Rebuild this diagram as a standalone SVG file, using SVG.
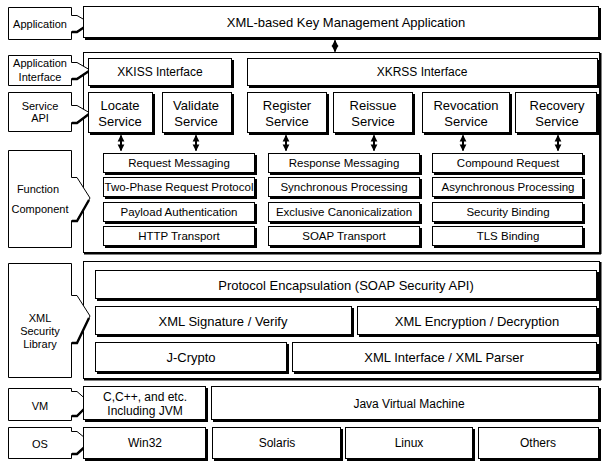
<svg xmlns="http://www.w3.org/2000/svg" width="606" height="463" viewBox="0 0 606 463">
  <style>
    text { font-family: "Liberation Sans", Arial, sans-serif; fill: #000; text-anchor: middle; dominant-baseline: central; }
    .t13 { font-size: 13px; }
    .t12 { font-size: 12px; }
    .t11 { font-size: 11.5px; }
    .lb  { font-size: 11px; }
    .sh  { fill: #000; }
    .bx  { fill: #fff; stroke: #000; stroke-width: 1; }
    .fr  { fill: none; stroke: #000; stroke-width: 1; }
    .frs { fill: none; stroke: #000; stroke-width: 2; }
    .tag { fill: #fff; stroke: #000; stroke-width: 1; stroke-linejoin: miter; }
    .heavy { stroke: #000; stroke-width: 2.4; fill: none; }
    .dbl { stroke: #000; stroke-width: 2; marker-start: url(#ah); marker-end: url(#ah); }
  </style>
  <defs>
    <marker id="ah" viewBox="0 0 10 10" refX="9" refY="5" markerWidth="3.4" markerHeight="3.8" orient="auto-start-reverse">
      <path d="M0,0 L10,5 L0,10 Z" fill="#000"/>
    </marker>
  </defs>
  <rect width="606" height="463" fill="#fff"/>

  <!-- layer frames -->
  <g id="frames">
    <rect class="fr" x="83.5" y="52.5" width="516" height="200"/>
    <line class="frs" x1="84" y1="253.5" x2="601" y2="253.5"/>
    <line class="frs" x1="600.5" y1="53" x2="600.5" y2="254"/>
    <rect class="fr" x="83.5" y="261.5" width="516" height="117"/>
    <line class="frs" x1="84" y1="379.5" x2="601" y2="379.5"/>
    <line class="frs" x1="600.5" y1="262" x2="600.5" y2="380"/>
  </g>

  <!-- layer labels with pointer tabs -->
  <g id="lbl-application">
    <path class="tag" d="M8.5,7.5 H71.5 V15.5 H77 L90,23 L77,31.5 H71.5 V39.5 H8.5 Z"/>
    <path class="heavy" d="M89,24 L77,32 H72"/>
    <text class="lb" x="40" y="24">Application</text>
  </g>
  <g id="lbl-app-interface">
    <path class="tag" d="M8.5,55.5 H71.5 V62.5 H77 L90,70 L77,78.5 H71.5 V85.5 H8.5 Z"/>
    <path class="heavy" d="M89,71 L77,79 H72"/>
    <text class="lb" x="40" y="63">Application</text>
    <text class="lb" x="40" y="77">Interface</text>
  </g>
  <g id="lbl-service-api">
    <path class="tag" d="M8.5,92.5 H71.5 V105.5 H77 L90,113 L77,122.5 H71.5 V131.5 H8.5 Z"/>
    <path class="heavy" d="M89,114 L77,123 H72"/>
    <text class="lb" x="40" y="106">Service</text>
    <text class="lb" x="40" y="118">API</text>
  </g>
  <g id="lbl-function">
    <path class="tag" d="M8.5,150.5 H71.5 V177.5 H77 L90,198 L77,220.5 H71.5 V247.5 H8.5 Z"/>
    <path class="heavy" d="M89,200 L77,221 H72"/>
    <text class="lb" x="38" y="189">Function</text>
    <text class="lb" x="40" y="209">Component</text>
  </g>
  <g id="lbl-xml-security">
    <path class="tag" d="M8.5,263.5 H71.5 V295.5 H77 L90,316 L77,342.5 H71.5 V377.5 H8.5 Z"/>
    <path class="heavy" d="M89,318 L77,343 H72"/>
    <text class="lb" x="40" y="318">XML</text>
    <text class="lb" x="40" y="331">Security</text>
    <text class="lb" x="40" y="344">Library</text>
  </g>
  <g id="lbl-vm">
    <path class="tag" d="M8.5,388.5 H71.5 V391.5 H77 L90,403 L77,415.5 H71.5 V420.5 H8.5 Z"/>
    <path class="heavy" d="M89,404 L77,416 H72"/>
    <text class="lb" x="40" y="406">VM</text>
  </g>
  <g id="lbl-os">
    <path class="tag" d="M8.5,427.5 H71.5 V431.5 H77 L90,442 L77,453.5 H71.5 V458.5 H8.5 Z"/>
    <path class="heavy" d="M89,443 L77,454 H72"/>
    <text class="lb" x="40" y="444">OS</text>
  </g>

  <!-- application layer -->
  <g id="app">
    <rect class="sh" x="85" y="8" width="516" height="32"/>
    <rect class="bx" x="83.5" y="6.5" width="515" height="31"/>
    <text class="t13" x="346" y="22">XML-based Key Management Application</text>
  </g>

  <!-- interfaces -->
  <g id="xkiss">
    <rect class="sh" x="90" y="60" width="144" height="28"/>
    <rect class="bx" x="88.5" y="58.5" width="143" height="27"/>
    <text class="t12" x="160" y="72">XKISS Interface</text>
  </g>
  <g id="xkrss">
    <rect class="sh" x="249" y="60" width="351" height="28"/>
    <rect class="bx" x="247.5" y="58.5" width="350" height="27"/>
    <text class="t12" x="422" y="72">XKRSS Interface</text>
  </g>

  <!-- services -->
  <g id="svc-locate">
    <rect class="sh" x="90" y="94" width="65" height="41"/>
    <rect class="bx" x="88.5" y="92.5" width="64" height="40"/>
    <text class="t13" x="120" y="105">Locate</text>
    <text class="t13" x="120" y="121">Service</text>
  </g>
  <g id="svc-validate">
    <rect class="sh" x="164" y="94" width="70" height="41"/>
    <rect class="bx" x="162.5" y="92.5" width="69" height="40"/>
    <text class="t13" x="196" y="105">Validate</text>
    <text class="t13" x="196" y="121">Service</text>
  </g>
  <g id="svc-register">
    <rect class="sh" x="249" y="94" width="80" height="41"/>
    <rect class="bx" x="247.5" y="92.5" width="79" height="40"/>
    <text class="t13" x="287" y="105">Register</text>
    <text class="t13" x="287" y="121">Service</text>
  </g>
  <g id="svc-reissue">
    <rect class="sh" x="335" y="94" width="80" height="41"/>
    <rect class="bx" x="333.5" y="92.5" width="79" height="40"/>
    <text class="t13" x="373" y="105">Reissue</text>
    <text class="t13" x="373" y="121">Service</text>
  </g>
  <g id="svc-revocation">
    <rect class="sh" x="424" y="94" width="88" height="41"/>
    <rect class="bx" x="422.5" y="92.5" width="87" height="40"/>
    <text class="t13" x="466" y="105">Revocation</text>
    <text class="t13" x="466" y="121">Service</text>
  </g>
  <g id="svc-recovery">
    <rect class="sh" x="517" y="94" width="82" height="41"/>
    <rect class="bx" x="515.5" y="92.5" width="81" height="40"/>
    <text class="t13" x="557" y="105">Recovery</text>
    <text class="t13" x="557" y="121">Service</text>
  </g>

  <!-- function components, column 1 -->
  <g id="fn-request-messaging">
    <rect class="sh" x="105" y="155" width="152" height="20"/>
    <rect class="bx" x="103.5" y="153.5" width="151" height="19"/>
    <text class="t11" x="179" y="163">Request Messaging</text>
  </g>
  <g id="fn-two-phase">
    <rect class="sh" x="105" y="179" width="152" height="20"/>
    <rect class="bx" x="103.5" y="177.5" width="151" height="19"/>
    <text class="t11" x="179" y="187">Two-Phase Request Protocol</text>
  </g>
  <g id="fn-payload-auth">
    <rect class="sh" x="105" y="204" width="152" height="20"/>
    <rect class="bx" x="103.5" y="202.5" width="151" height="19"/>
    <text class="t11" x="179" y="212">Payload Authentication</text>
  </g>
  <g id="fn-http">
    <rect class="sh" x="105" y="228" width="152" height="20"/>
    <rect class="bx" x="103.5" y="226.5" width="151" height="19"/>
    <text class="t11" x="179" y="236">HTTP Transport</text>
  </g>

  <!-- function components, column 2 -->
  <g id="fn-response-messaging">
    <rect class="sh" x="270" y="155" width="152" height="20"/>
    <rect class="bx" x="268.5" y="153.5" width="151" height="19"/>
    <text class="t11" x="344" y="163">Response Messaging</text>
  </g>
  <g id="fn-synchronous">
    <rect class="sh" x="270" y="179" width="152" height="20"/>
    <rect class="bx" x="268.5" y="177.5" width="151" height="19"/>
    <text class="t11" x="344" y="187">Synchronous Processing</text>
  </g>
  <g id="fn-exclusive-c14n">
    <rect class="sh" x="270" y="204" width="152" height="20"/>
    <rect class="bx" x="268.5" y="202.5" width="151" height="19"/>
    <text class="t11" x="344" y="212">Exclusive Canonicalization</text>
  </g>
  <g id="fn-soap">
    <rect class="sh" x="270" y="228" width="152" height="20"/>
    <rect class="bx" x="268.5" y="226.5" width="151" height="19"/>
    <text class="t11" x="344" y="236">SOAP Transport</text>
  </g>

  <!-- function components, column 3 -->
  <g id="fn-compound">
    <rect class="sh" x="434" y="155" width="151" height="20"/>
    <rect class="bx" x="432.5" y="153.5" width="150" height="19"/>
    <text class="t11" x="508" y="163">Compound Request</text>
  </g>
  <g id="fn-asynchronous">
    <rect class="sh" x="434" y="179" width="151" height="20"/>
    <rect class="bx" x="432.5" y="177.5" width="150" height="19"/>
    <text class="t11" x="508" y="187">Asynchronous Processing</text>
  </g>
  <g id="fn-security-binding">
    <rect class="sh" x="434" y="204" width="151" height="20"/>
    <rect class="bx" x="432.5" y="202.5" width="150" height="19"/>
    <text class="t11" x="508" y="212">Security Binding</text>
  </g>
  <g id="fn-tls">
    <rect class="sh" x="434" y="228" width="151" height="20"/>
    <rect class="bx" x="432.5" y="226.5" width="150" height="19"/>
    <text class="t11" x="508" y="236">TLS Binding</text>
  </g>

  <!-- XML security library -->
  <g id="soap-api">
    <rect class="sh" x="97" y="272" width="502" height="29"/>
    <rect class="bx" x="95.5" y="270.5" width="501" height="28"/>
    <text class="t13" x="346" y="285">Protocol Encapsulation (SOAP Security API)</text>
  </g>
  <g id="xml-signature">
    <rect class="sh" x="97" y="308" width="257" height="29"/>
    <rect class="bx" x="95.5" y="306.5" width="256" height="28"/>
    <text class="t13" x="223" y="321">XML Signature / Verify</text>
  </g>
  <g id="xml-encryption">
    <rect class="sh" x="359" y="308" width="240" height="29"/>
    <rect class="bx" x="357.5" y="306.5" width="239" height="28"/>
    <text class="t13" x="477" y="321">XML Encryption / Decryption</text>
  </g>
  <g id="j-crypto">
    <rect class="sh" x="97" y="344" width="192" height="30"/>
    <rect class="bx" x="95.5" y="342.5" width="191" height="29"/>
    <text class="t13" x="191" y="357">J-Crypto</text>
  </g>
  <g id="xml-parser">
    <rect class="sh" x="294" y="344" width="305" height="30"/>
    <rect class="bx" x="292.5" y="342.5" width="304" height="29"/>
    <text class="t13" x="444" y="357">XML Interface / XML Parser</text>
  </g>

  <!-- virtual machine -->
  <g id="vm-native">
    <rect class="sh" x="85" y="388" width="123" height="34"/>
    <rect class="bx" x="83.5" y="386.5" width="122" height="33"/>
    <text class="t12" x="145" y="397">C,C++, and etc.</text>
    <text class="t12" x="145" y="411">Including JVM</text>
  </g>
  <g id="vm-jvm">
    <rect class="sh" x="213" y="388" width="388" height="34"/>
    <rect class="bx" x="211.5" y="386.5" width="387" height="33"/>
    <text class="t12" x="409" y="404">Java Virtual Machine</text>
  </g>

  <!-- operating systems -->
  <g id="os-win32">
    <rect class="sh" x="85" y="429" width="123" height="32"/>
    <rect class="bx" x="83.5" y="427.5" width="122" height="31"/>
    <text class="t12" x="145" y="443">Win32</text>
  </g>
  <g id="os-solaris">
    <rect class="sh" x="214" y="429" width="129" height="32"/>
    <rect class="bx" x="212.5" y="427.5" width="128" height="31"/>
    <text class="t12" x="277" y="443">Solaris</text>
  </g>
  <g id="os-linux">
    <rect class="sh" x="347" y="429" width="128" height="32"/>
    <rect class="bx" x="345.5" y="427.5" width="127" height="31"/>
    <text class="t12" x="409" y="443">Linux</text>
  </g>
  <g id="os-others">
    <rect class="sh" x="480" y="429" width="121" height="32"/>
    <rect class="bx" x="478.5" y="427.5" width="120" height="31"/>
    <text class="t12" x="538" y="443">Others</text>
  </g>

  <!-- two-way connectors -->
  <g id="connectors">
    <line class="dbl" x1="335" y1="40.5" x2="335" y2="51.5"/>
    <line class="dbl" x1="121" y1="135.5" x2="121" y2="150.5"/>
    <line class="dbl" x1="196" y1="135.5" x2="196" y2="150.5"/>
    <line class="dbl" x1="286" y1="135.5" x2="286" y2="150.5"/>
    <line class="dbl" x1="374" y1="135.5" x2="374" y2="150.5"/>
    <line class="dbl" x1="463" y1="135.5" x2="463" y2="150.5"/>
    <line class="dbl" x1="558" y1="135.5" x2="558" y2="150.5"/>
  </g>
</svg>
